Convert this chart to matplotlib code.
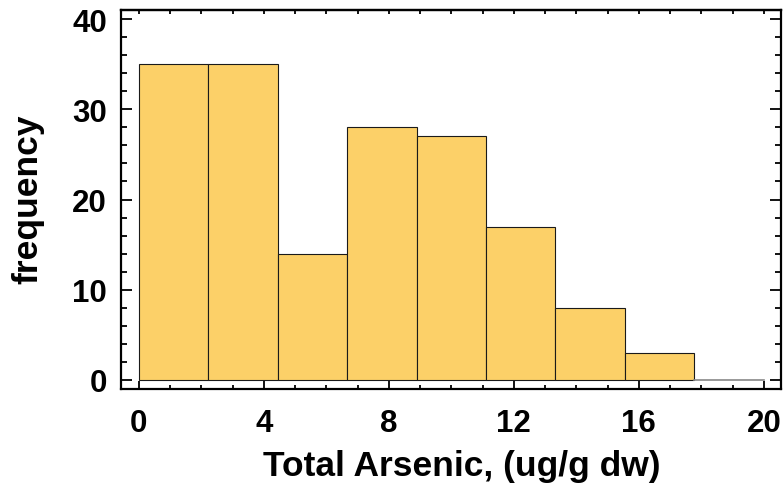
import matplotlib
matplotlib.use("Agg")
import matplotlib.pyplot as plt
import numpy as np
from matplotlib.ticker import MultipleLocator

# Data
bin_edges = [0, 20/9, 40/9, 60/9, 80/9, 100/9, 120/9, 140/9, 160/9, 20]
counts = [35, 35, 14, 28, 27, 17, 8, 3, 0]
x_ticks = [0, 4, 8, 12, 16, 20]
y_ticks = [0, 10, 20, 30, 40]

plt.rcParams['font.family'] = ['Liberation Sans', 'DejaVu Sans']

W, H = 784, 485
fig = plt.figure(figsize=(W/100, H/100), dpi=100)
ax = fig.add_axes([121/W, 1 - 390/H, (781 - 121)/W, (390 - 11)/H])

lefts = np.array(bin_edges[:-1])
widths = np.diff(bin_edges)
nz = np.array(counts) > 0
ax.bar(lefts[nz], np.array(counts)[nz], width=widths[nz], align='edge', color='#FCD068',
       edgecolor='#1a1a1a', linewidth=0.8)
# zero-height bins drawn as a grey line
for l, w in zip(lefts[~nz], widths[~nz]):
    ax.plot([l, l + w], [0, 0], color='#888888', linewidth=1.2)

ax.set_xlim(-0.57, 20.55)
ax.set_ylim(-1.0, 41.0)
ax.set_xticks(x_ticks)
ax.set_yticks(y_ticks)
ax.xaxis.set_minor_locator(MultipleLocator(1))
ax.yaxis.set_minor_locator(MultipleLocator(2))

ax.tick_params(which='both', direction='in', top=False, right=True, width=1.3, color='black')
ax.tick_params(axis='y', which='major', length=8, pad=10)
ax.tick_params(axis='y', which='minor', length=4.3)
ax.tick_params(axis='x', which='major', length=5.8, pad=13.5)
ax.tick_params(axis='x', which='minor', length=2.9)
for lab in ax.get_xticklabels() + ax.get_yticklabels():
    lab.set_fontsize(22.5)
    lab.set_fontweight('bold')

# top ticks: short, unlabeled
sec = ax.secondary_xaxis('top')
sec.set_xticks(x_ticks)
sec.set_xticklabels([])
sec.xaxis.set_minor_locator(MultipleLocator(1))
sec.tick_params(which='both', direction='in', width=1.3, length=3)
sec.spines['top'].set_linewidth(1.6)

for s in ax.spines.values():
    s.set_linewidth(1.6)
    s.set_color('black')

fig.text(462/W, 1 - 467/H, 'Total Arsenic, (ug/g dw)', fontsize=25.5, fontweight='bold',
         ha='center', va='center')
fig.text(28/W, 1 - 199/H, 'frequency', fontsize=25.5, fontweight='bold',
         ha='center', va='center', rotation=90)

fig.savefig('out.png', dpi=100)
